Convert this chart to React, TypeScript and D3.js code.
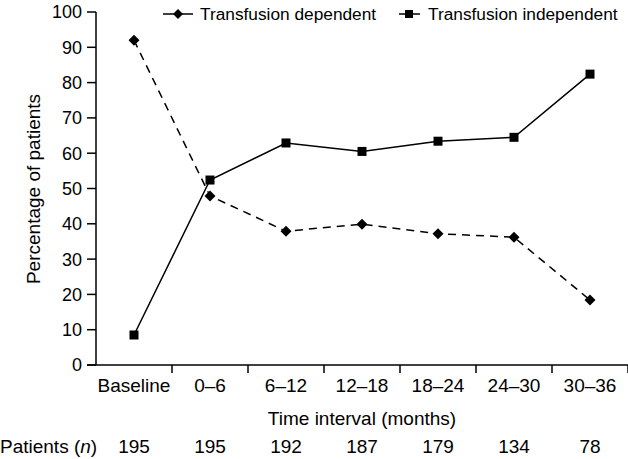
import React from "react";
import * as d3 from "d3";

const categories = ["Baseline", "0–6", "6–12", "12–18", "18–24", "24–30", "30–36"];
const dependent = [92, 47.9, 37.9, 39.9, 37.2, 36.2, 18.4];
const independent = [8.5, 52.4, 62.9, 60.5, 63.4, 64.5, 82.4];
const patients = [195, 195, 192, 187, 179, 134, 78];
const yTicks = [0, 10, 20, 30, 40, 50, 60, 70, 80, 90, 100];

const W = 628, H = 459;
const left = 96, right = 628, top = 12, bottom = 365;
const font = "'Liberation Sans', Arial, sans-serif";

export default function App() {
  const x = d3.scaleBand<string>().domain(categories).range([left, right]);
  const y = d3.scaleLinear().domain([0, 100]).range([bottom, top]);
  const cx = (c: string) => (x(c) as number) + x.bandwidth() / 2;
  const line = d3.line<number>().x((_, i) => cx(categories[i])).y((d) => y(d));
  const diamond = (px: number, py: number, r = 5.5) =>
    `M${px},${py - r}L${px + r},${py}L${px},${py + r}L${px - r},${py}Z`;

  return (
    <svg width={W} height={H} style={{ position: "absolute", left: 0, top: 0, background: "#fff" }} fontFamily={font}>
      {/* axes */}
      <line x1={left} x2={left} y1={top} y2={bottom} stroke="#000" strokeWidth={1.5} />
      <line x1={left - 9} x2={right} y1={bottom} y2={bottom} stroke="#000" strokeWidth={1.5} />
      {yTicks.map((t) => (
        <g key={t}>
          <line x1={left - 9} x2={left} y1={y(t)} y2={y(t)} stroke="#000" strokeWidth={1.5} />
          <text x={82} y={y(t)} dy="0.36em" textAnchor="end" fontSize={18}>{t}</text>
        </g>
      ))}
      {categories.map((c) => (
        <line key={c} x1={(x(c) as number) + x.bandwidth()} x2={(x(c) as number) + x.bandwidth()} y1={bottom} y2={bottom + 8} stroke="#000" strokeWidth={1.5} />
      ))}
      {categories.map((c) => (
        <text key={c} x={cx(c)} y={392} textAnchor="middle" fontSize={19}>{c}</text>
      ))}
      <text x={(left + right) / 2} y={425} textAnchor="middle" fontSize={19}>Time interval (months)</text>
      <text transform={`translate(33,189) rotate(-90)`} textAnchor="middle" dy="0.35em" fontSize={19}>Percentage of patients</text>
      <text x={0} y={453} fontSize={19}>Patients (<tspan fontStyle="italic">n</tspan>)</text>
      {categories.map((c, i) => (
        <text key={c} x={cx(c)} y={453} textAnchor="middle" fontSize={19}>{patients[i]}</text>
      ))}

      {/* series */}
      <path d={line(dependent) as string} fill="none" stroke="#000" strokeWidth={1.5} strokeDasharray="8,6" />
      <path d={line(independent) as string} fill="none" stroke="#000" strokeWidth={1.5} />
      {dependent.map((v, i) => (
        <path key={i} d={diamond(cx(categories[i]), y(v))} fill="#000" />
      ))}
      {independent.map((v, i) => (
        <rect key={i} x={cx(categories[i]) - 4.5} y={y(v) - 4.5} width={9} height={9} fill="#000" />
      ))}

      {/* legend */}
      <line x1={163} x2={193} y1={14} y2={14} stroke="#000" strokeWidth={1.5} />
      <path d={diamond(178, 14, 5)} fill="#000" />
      <text x={200} y={14} dy="0.35em" fontSize={17.3}>Transfusion dependent</text>
      <line x1={399} x2={420} y1={14} y2={14} stroke="#000" strokeWidth={1.5} />
      <rect x={405} y={10} width={8} height={8} fill="#000" />
      <text x={428} y={14} dy="0.35em" fontSize={17.3}>Transfusion independent</text>
    </svg>
  );
}
